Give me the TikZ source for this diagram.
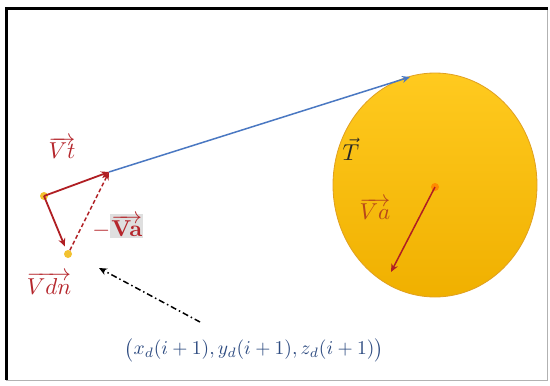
\documentclass[tikz,border=0pt]{standalone}
\usetikzlibrary{arrows.meta}
\definecolor{vred}{HTML}{B01E23}
\definecolor{tblue}{HTML}{4A78C2}
\definecolor{goldA}{HTML}{FFCA1F}
\definecolor{goldB}{HTML}{F0B000}
\definecolor{goldEdge}{HTML}{E0A020}
\definecolor{labred}{HTML}{B5262C}
\definecolor{vaorange}{HTML}{B8481A}
\definecolor{coordblue}{HTML}{2C4A80}
\definecolor{dotcol}{HTML}{F2C230}
\begin{document}
\begin{tikzpicture}[x=1pt,y=-1pt,
  vecarrow/.style={draw=vred, line width=1.8pt, -{Stealth[length=8pt,width=7pt]}},
  dotnode/.style={circle, fill=dotcol, minimum size=8pt, inner sep=0pt},
  biglabel/.style={scale=2.3, inner sep=0.3pt}]
\useasboundingbox (0,0) rectangle (550,386);
\fill[white] (0,0) rectangle (550,386);
% frame
\draw[gray!60, line width=0.8pt] (547,9) -- (547,380) -- (6,380);
\draw[black, line width=3pt] (6.5,380) -- (6.5,8.5) -- (548,8.5);
% target disc
\shade[top color=goldA, bottom color=goldB, draw=goldEdge, line width=0.8pt]
  (435,185) ellipse [x radius=102, y radius=112];
\node[circle, fill=orange!85!red!80!yellow, minimum size=8pt, inner sep=0pt] (c) at (435,187) {};
\coordinate (vaend) at (391,272);
\draw[draw=vred, line width=1.5pt, -{Stealth[length=8pt,width=7pt]}] (c.center) -- (vaend);
% points
\node[dotnode] (p1) at (44,196) {};
\node[dotnode] (p2) at (68,254) {};
\coordinate (vt) at (109,172);
\coordinate (ttip) at (410,77);
\draw[tblue, line width=1.5pt, -{Stealth[length=8pt,width=7pt]}] (vt) -- (ttip);
\draw[vecarrow] (p1.center) -- (vt);
\draw[vecarrow, shorten >=4pt] (p1.center) -- (p2);
\draw[vecarrow, line width=1.5pt, dashed, dash pattern=on 4pt off 2.5pt] (p2) -- (vt);
% dash-dot pointer
\coordinate (dd) at (200,322);
\coordinate (ddend) at (99,268);
\draw[black, line width=1.5pt, dash pattern=on 6pt off 3pt on 1.5pt off 3pt, -{Stealth[length=8pt,width=7pt]}] (dd) -- (ddend);
% labels
\node[biglabel, text=labred] (lvt) at (62,148) {$\overrightarrow{Vt}$};
\node[biglabel, text=labred] (lvdn) at (49,283) {$\overrightarrow{Vdn}$};
\node[biglabel, text=black!85] (lt) at (351,149) {$\vec{T}$};
\node[biglabel, text=vaorange] (lva) at (375,209) {$\overrightarrow{Va}$};
\node[biglabel, text=labred, anchor=west, inner sep=0pt] (lnva) at (92,226)
  {$-$\setlength{\fboxsep}{0.5pt}\colorbox{gray!25}{$\overrightarrow{\mathbf{Va}}$}};
\node[text=coordblue, scale=1.95] (coord) at (254,350)
  {$\bigl(x_d(i+1),y_d(i+1),z_d(i+1)\bigr)$};
\end{tikzpicture}
\end{document}
